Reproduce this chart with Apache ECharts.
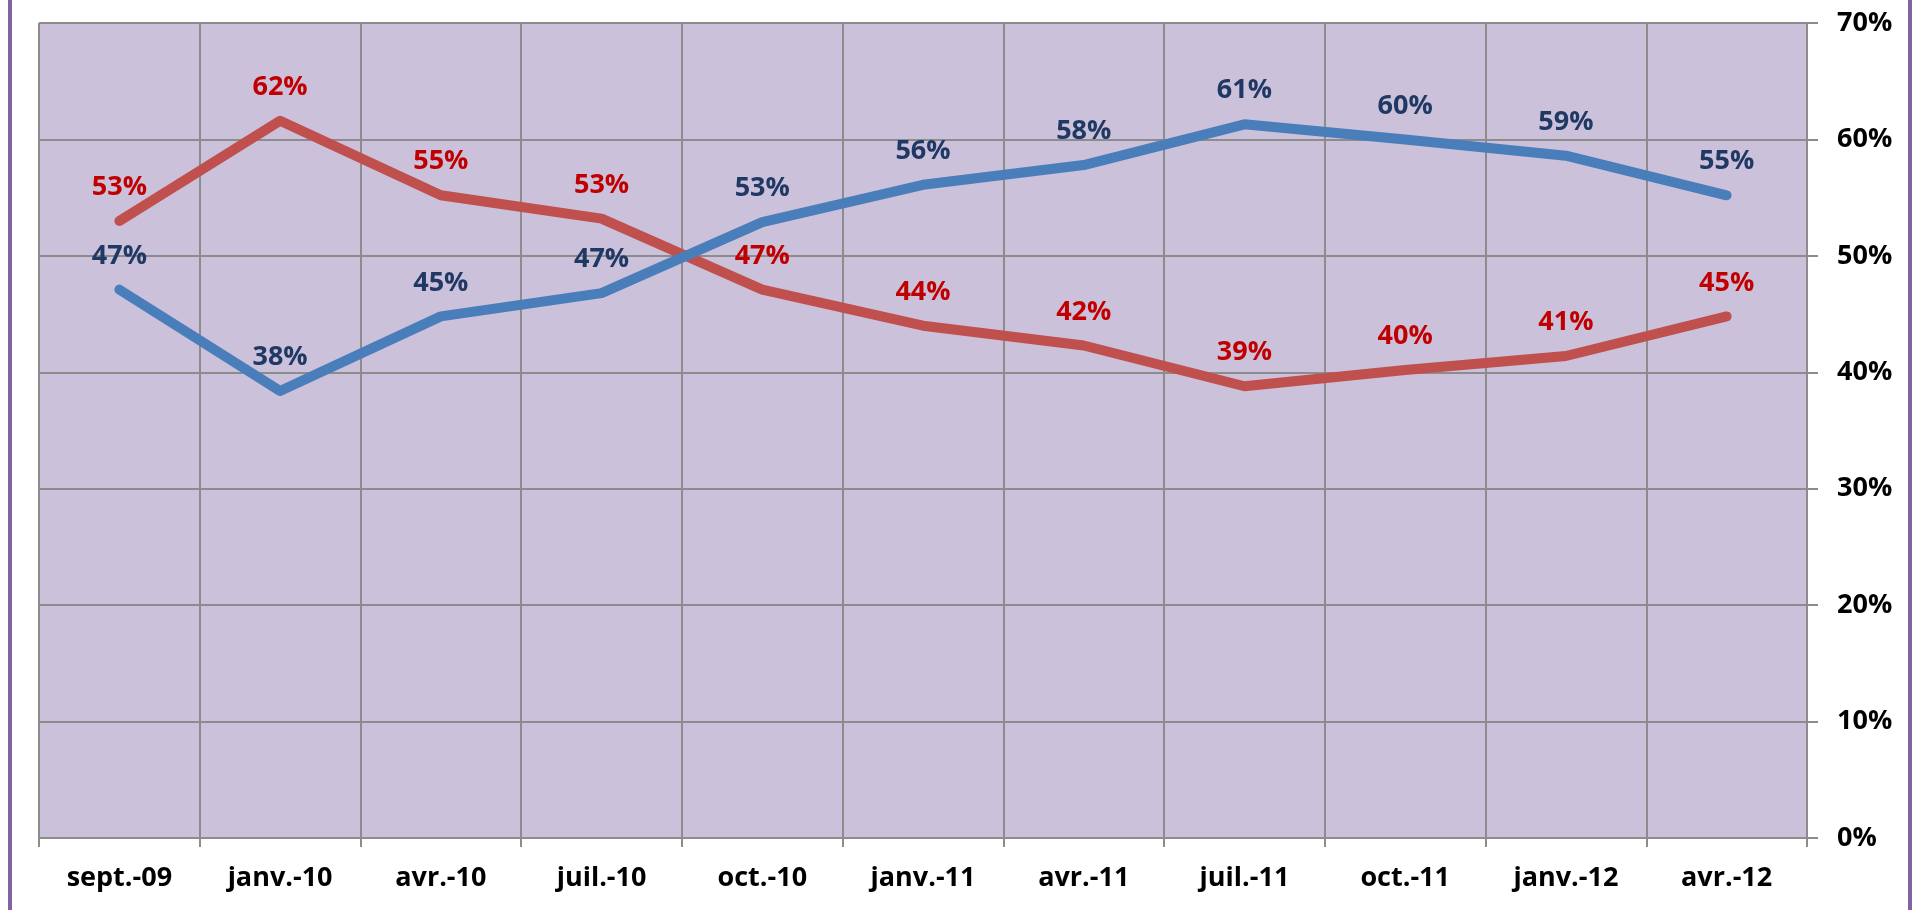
<!DOCTYPE html>
<html><head><meta charset="utf-8">
<script src="https://cdn.jsdelivr.net/npm/echarts@6/dist/echarts.min.js"></script>
<style>
html,body{margin:0;padding:0;background:#fff;}
#c{width:1921px;height:910px;}
.bl{position:absolute;top:0;width:4px;height:910px;background:#8064A2;}
</style></head>
<body>
<div id="c"></div>
<div class="bl" style="left:8px"></div>
<div class="bl" style="left:1908px"></div>
<script>
const categories = ['sept.-09','janv.-10','avr.-10','juil.-10','oct.-10','janv.-11','avr.-11','juil.-11','oct.-11','janv.-12','avr.-12'];
const blueValues = [47.1, 38.4, 44.8, 46.8, 52.9, 56.1, 57.8, 61.3, 60.0, 58.6, 55.2];
const redValues  = [53.0, 61.6, 55.2, 53.2, 47.1, 44.0, 42.3, 38.8, 40.2, 41.4, 44.8];
const yTicks = {min: 0, max: 70, interval: 10};

const chart = echarts.init(document.getElementById('c'));
const font = '"Open Sans", sans-serif';
function mkSeries(data, lineColor, labelColor) {
  return {
    type: 'line', data: data, symbol: 'circle', symbolSize: 0.1,
    itemStyle: {color: lineColor},
    lineStyle: {color: lineColor, width: 10, cap: 'round', join: 'round'},
    label: {show: true, position: 'top', distance: 20, color: labelColor,
      fontFamily: font, fontWeight: 'bold', fontSize: 27,
      formatter: p => Math.round(p.value) + '%'},
    emphasis: {disabled: true}, animation: false
  };
}
chart.setOption({
  animation: false,
  grid: {left: 39, top: 23, right: 114, bottom: 72, show: true, backgroundColor: '#CCC1DA', borderWidth: 0},
  xAxis: {
    type: 'category', data: categories, boundaryGap: true,
    axisLine: {lineStyle: {color: '#8c8c8c', width: 2}},
    axisTick: {show: true, length: 9, alignWithLabel: false, lineStyle: {color: '#8c8c8c', width: 2}},
    splitLine: {show: true, lineStyle: {color: '#8c8c8c', width: 2}},
    axisLabel: {color: '#000', fontFamily: font, fontWeight: 'bold', fontSize: 27, margin: 27}
  },
  yAxis: {
    type: 'value', position: 'right', min: yTicks.min, max: yTicks.max, interval: yTicks.interval,
    axisLine: {show: true, lineStyle: {color: '#8c8c8c', width: 2}},
    axisTick: {show: true, length: 11, lineStyle: {color: '#8c8c8c', width: 2}},
    splitLine: {show: true, lineStyle: {color: '#8c8c8c', width: 2}},
    axisLabel: {color: '#000', fontFamily: font, fontWeight: 'bold', fontSize: 27, margin: 30, formatter: '{value}%'}
  },
  series: [
    mkSeries(redValues, '#C0504D', '#C00000'),
    mkSeries(blueValues, '#4A7EBB', '#1F3864')
  ]
});
</script>
</body></html>
